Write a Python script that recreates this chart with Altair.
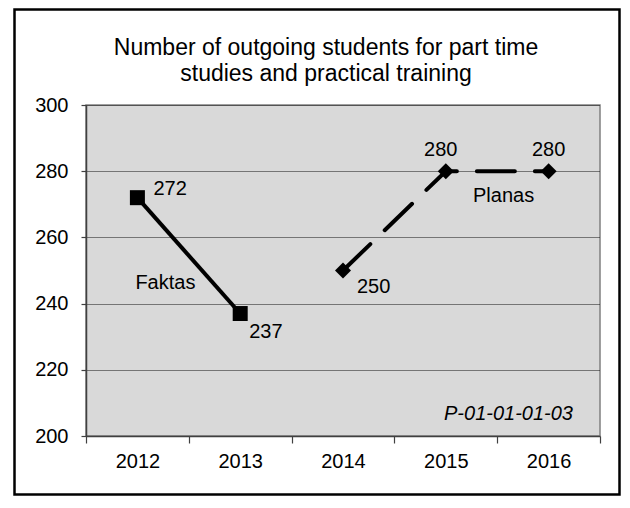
import altair as alt
import pandas as pd

# ---- data ----
years = ["2012", "2013", "2014", "2015", "2016"]
fakt_years = ["2012", "2013"]
fakt_values = [272, 237]
plan_years = ["2014", "2015", "2016"]
plan_values = [250, 280, 280]
y_ticks = [200, 220, 240, 260, 280, 300]
title_lines = ["Number of outgoing students for part time",
               "studies and practical training"]
series_names = ["Faktas", "Planas"]
code_label = "P-01-01-01-03"

FONT = "Liberation Sans"

fakt = pd.DataFrame({"year": fakt_years, "value": fakt_values, "series": series_names[0]})
plan = pd.DataFrame({"year": plan_years, "value": plan_values, "series": series_names[1]})
one = pd.DataFrame({"k": [0]})

x_enc = alt.X(
    "year:N",
    bandPosition=0.5,
    scale=alt.Scale(type="band", domain=years, paddingInner=0, paddingOuter=0),
    axis=alt.Axis(title=None, labelAngle=0, tickBand="extent", tickSize=7,
                  labelPadding=8, grid=False, domainColor="#404040",
                  tickColor="#404040", domainWidth=1.5, tickWidth=1.2),
)
y_enc = alt.Y(
    "value:Q",
    scale=alt.Scale(domain=[200, 300], nice=False, zero=False),
    axis=alt.Axis(title=None, values=y_ticks, tickSize=5, labelPadding=13,
                  grid=True, gridColor="#111111", gridDash=[1, 1], gridWidth=1,
                  domainColor="#404040", tickColor="#404040", domainWidth=1.5,
                  tickWidth=1.2),
)

border = alt.Chart(one).mark_rect(fill="transparent", stroke="black", strokeWidth=2.5).encode(
    x=alt.value(-71.5), x2=alt.value(533.5), y=alt.value(-95.5), y2=alt.value(389.5)
)

title1 = alt.Chart(one).mark_text(font=FONT, fontSize=23, color="black", align="center",
                                  baseline="alphabetic").encode(
    x=alt.value(240), y=alt.value(-50), text=alt.value(title_lines[0]))
title2 = alt.Chart(one).mark_text(font=FONT, fontSize=23, color="black", align="center",
                                  baseline="alphabetic").encode(
    x=alt.value(240), y=alt.value(-24), text=alt.value(title_lines[1]))

fakt_line = alt.Chart(fakt).mark_line(color="black", strokeWidth=4).encode(x=x_enc, y=y_enc)
fakt_pts = alt.Chart(fakt).mark_point(shape="square", filled=True, color="black", size=225,
                                      opacity=1).encode(x=x_enc, y=y_enc)
plan_line = alt.Chart(plan).mark_line(color="black", strokeWidth=4, strokeDash=[38, 20],
                                      strokeCap="round").encode(x=x_enc, y=y_enc)
plan_pts = alt.Chart(plan).mark_point(shape="diamond", filled=True, color="black", size=256,
                                      opacity=1).encode(x=x_enc, y=y_enc)


def val_label(df, year, dx, dy, align="left"):
    return alt.Chart(df).transform_filter(alt.datum.year == year).mark_text(
        font=FONT, fontSize=20, color="black", align=align, baseline="middle", dx=dx, dy=dy
    ).encode(x=x_enc, y=y_enc, text="value:Q")


def name_label(df, year, dx, dy):
    return alt.Chart(df).transform_filter(alt.datum.year == year).mark_text(
        font=FONT, fontSize=20, color="black", align="center", baseline="middle", dx=dx, dy=dy
    ).encode(x=x_enc, y=y_enc, text="series:N")


labels = [
    val_label(fakt, "2012", 16, -9),
    val_label(fakt, "2013", 9, 18),
    val_label(plan, "2014", 14, 16),
    val_label(plan, "2015", -5, -21, "center"),
    val_label(plan, "2016", 0, -21, "center"),
    name_label(fakt, "2012", 28, 85),
    name_label(plan, "2016", -45, 25),
]

code = alt.Chart(one).mark_text(font=FONT, fontSize=20, fontStyle="italic", color="black",
                                align="right", baseline="middle").encode(
    x=alt.value(487), y=alt.value(309), text=alt.value(code_label))

chart = alt.layer(
    fakt_line, fakt_pts, plan_line, plan_pts, *labels, code, title1, title2, border
).properties(
    width=514, height=331,
    padding={"left": 78, "top": 97, "right": 22, "bottom": 60},
    autosize=alt.AutoSizeParams(type="none"),
    background="white",
).configure_view(
    fill="#d9d9d9", stroke="#808080", strokeWidth=1.5
).configure_axis(
    labelFont=FONT, labelFontSize=20, labelColor="black"
)

chart.save("out.html", embed_options={"renderer": "svg", "actions": False})
